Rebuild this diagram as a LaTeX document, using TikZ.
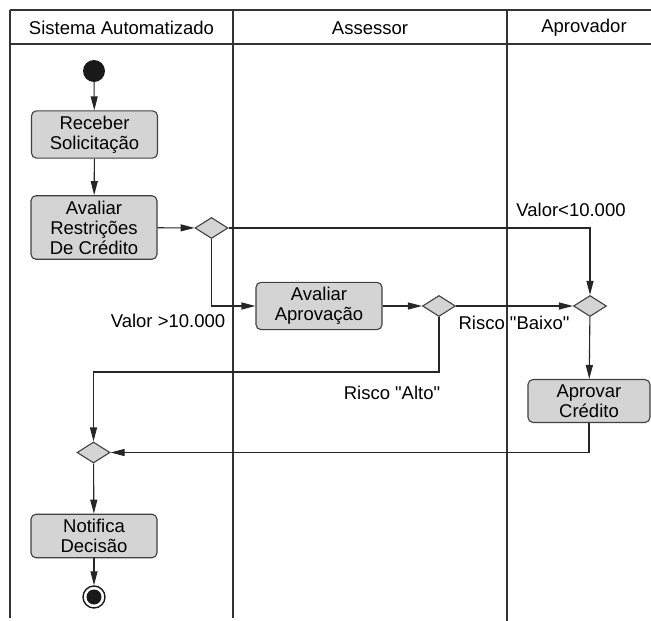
\documentclass[tikz,border=0pt]{standalone}
\usepackage{fontspec}
\setmainfont{Liberation Sans}
\usepackage{tikz}
\usetikzlibrary{shapes.geometric, positioning, arrows.meta}

\tikzset{
  raia/.style={line width=1.3pt, black!80},
  acao/.style={rectangle, rounded corners=5pt, draw=black!75, line width=1.1pt,
    fill=black!17, minimum width=126pt, inner ysep=5pt, align=center},
  decisao/.style={diamond, draw=black!75, line width=1.1pt, fill=black!17,
    minimum width=33pt, minimum height=21pt, inner sep=0pt},
  fluxo/.style={line width=1.1pt, black!85, -{Triangle[length=14pt,width=7pt]}},
  rotulo/.style={inner sep=0pt}
}

\begin{document}
\begin{tikzpicture}[x=1pt, y=-1pt, font=\fontsize{18.5}{20}\selectfont]
		\useasboundingbox (0,0) rectangle (651,621);
		% Raias
		\draw[raia] (10,10) -- (651,10);
		\draw[raia] (10,44) -- (651,44);
		\draw[raia] (10,10) -- (10,618);
		\draw[raia] (233,10) -- (233,618);
		\draw[raia] (507,10) -- (507,621);
		\node (sistema) at (121.5,28) {Sistema Automatizado};
		\node (assessor) at (370,28) {Assessor};
		\node (aprovador) at (584,28) {Aprovador};
		% Atividades
		\node[circle, fill=black!90, minimum size=22pt, inner sep=0pt] (inicio) at (94,71) {};
		\node[acao] (receber) at (94.5,134.5) {Receber\\Solicitação};
		\node[acao] (restricoes) at (94,227.5) {Avaliar\\Restrições\\De Crédito};
		\node[decisao] (d1) at (211.5,228) {};
		\node[acao] (avaliar) at (319,306) {Avaliar\\Aprovação};
		\node[decisao] (d2) at (439,306) {};
		\node[decisao] (d3) at (590,306) {};
		\node[acao, minimum width=122pt] (aprovar) at (589,401) {Aprovar\\Crédito};
		\node[decisao] (juncao) at (93.5,452.5) {};
		\node[acao] (notifica) at (94,536) {Notifica\\Decisão};
		\node[circle, draw=black!90, line width=1.4pt, minimum size=22pt, inner sep=0pt,
			path picture={\fill[black!90] (path picture bounding box.center) circle (7.5pt);}] (fim) at (94,597) {};
		\coordinate (curva) at (93.5,372);
		% Fluxos
		\draw[fluxo] (inicio) -- (receber);
		\draw[fluxo] (receber) -- (restricoes);
		\draw[fluxo] (restricoes) -- (d1);
		\draw[fluxo] (d1.east) -| (d3.north);
		\draw[fluxo] (d1.south) |- (avaliar.west);
		\draw[fluxo] (avaliar) -- (d2);
		\draw[fluxo] (d2) -- (d3);
		\draw[fluxo] (d2.south) |- (curva) -- (juncao.north);
		\draw[fluxo] (d3) -- (aprovar);
		\draw[fluxo] (aprovar.south) |- (juncao.east);
		\draw[fluxo] (juncao) -- (notifica);
		\draw[fluxo] (notifica) -- (fim);
		% Condicoes
		\node[rotulo] (menor) at (571,210) {Valor<10.000};
		\node[rotulo] (maior) at (168,321) {Valor >10.000};
		\node[rotulo] (baixo) at (514,323) {Risco \textquotedbl Baixo\textquotedbl};
		\node[rotulo] (alto) at (392,393) {Risco \textquotedbl Alto\textquotedbl};
	\end{tikzpicture}
\end{document}
